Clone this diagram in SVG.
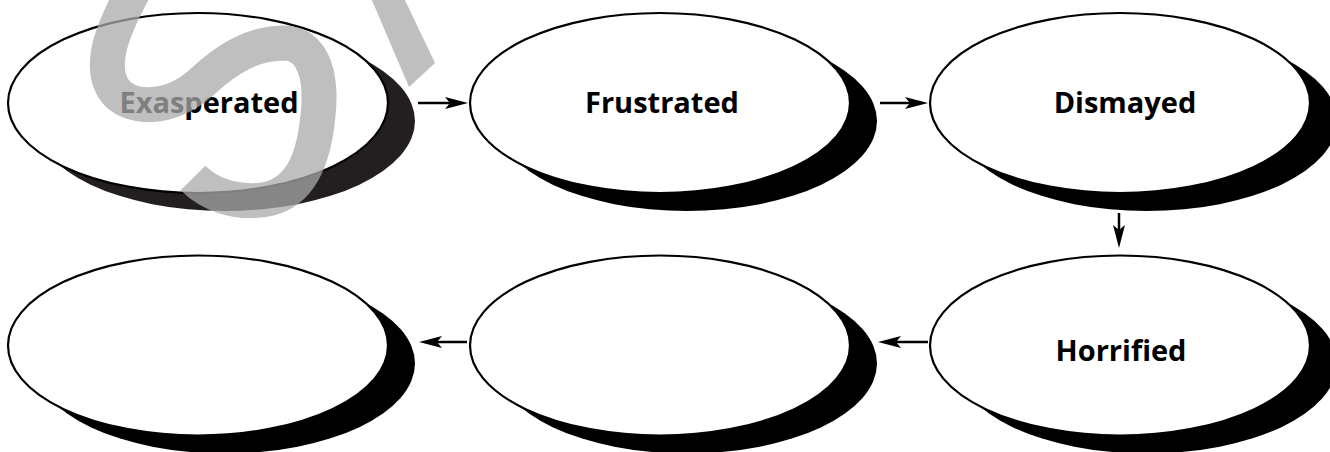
<svg xmlns="http://www.w3.org/2000/svg" width="1330" height="452" viewBox="0 0 1330 452">
  <style>
    .shadow { fill: #000; }
    .shadow1 { fill: #231f20; }
    .node { fill: #fff; stroke: #000; stroke-width: 2.2; }
    .label { font-family: "Open Sans", "Liberation Sans", sans-serif; font-weight: 700; font-size: 29px; fill: #000; text-anchor: middle; }
    .conn { stroke: #000; stroke-width: 2.5; fill: none; marker-end: url(#arrow); }
    .wm { fill: none; stroke: #aaa; stroke-width: 35; opacity: 0.75; }
    .wmfill { fill: #aaa; opacity: 0.75; }
  </style>
  <defs>
    <marker id="arrow" viewBox="0 0 23 12" refX="13" refY="6" markerWidth="23" markerHeight="12" markerUnits="userSpaceOnUse" orient="auto">
      <path d="M0,0 L23,6 L0,12 L5,6 Z" fill="#000"/>
    </marker>
  </defs>
  <rect width="1330" height="452" fill="#fff"/>

  <g id="node-exasperated">
    <ellipse class="shadow1" cx="225" cy="121" rx="190" ry="90"/>
    <ellipse class="node" cx="198" cy="103" rx="190" ry="90" stroke="#231f20"/>
    <text class="label" x="209" y="113">Exasperated</text>
  </g>
  <g id="node-frustrated">
    <ellipse class="shadow" cx="687" cy="121" rx="190" ry="90"/>
    <ellipse class="node" cx="660" cy="103" rx="190" ry="90"/>
    <text class="label" x="662" y="113">Frustrated</text>
  </g>
  <g id="node-dismayed">
    <ellipse class="shadow" cx="1147" cy="121" rx="190" ry="90"/>
    <ellipse class="node" cx="1120" cy="103" rx="190" ry="90"/>
    <text class="label" x="1125" y="113">Dismayed</text>
  </g>
  <g id="node-horrified">
    <ellipse class="shadow" cx="1147" cy="363.5" rx="190" ry="90"/>
    <ellipse class="node" cx="1120" cy="345.5" rx="190" ry="90"/>
    <text class="label" x="1121" y="361">Horrified</text>
  </g>
  <g id="node-blank-middle">
    <ellipse class="shadow" cx="687" cy="363.5" rx="190" ry="90"/>
    <ellipse class="node" cx="660" cy="345.5" rx="190" ry="90"/>
  </g>
  <g id="node-blank-left">
    <ellipse class="shadow" cx="225" cy="363.5" rx="190" ry="90"/>
    <ellipse class="node" cx="198" cy="345.5" rx="190" ry="90"/>
  </g>

  <g id="connectors">
    <line class="conn" x1="418" y1="103" x2="458" y2="103"/>
    <line class="conn" x1="880" y1="103" x2="918" y2="103"/>
    <line class="conn" x1="1119" y1="213" x2="1119" y2="238"/>
    <line class="conn" x1="928" y1="342" x2="888" y2="342"/>
    <line class="conn" x1="467" y1="342" x2="429" y2="342"/>
  </g>

  <g id="watermark">
    <path class="wm" d="M135,-12 C115,25 98,62 113,88 C128,112 172,110 202,82 C230,56 255,43 285,43 C315,44 322,80 318,115 C314,160 300,195 262,200 C235,203 210,195 193,178"/>
    <polygon class="wmfill" points="371,-2 404,-2 435,63 409,87"/>
  </g>
</svg>
